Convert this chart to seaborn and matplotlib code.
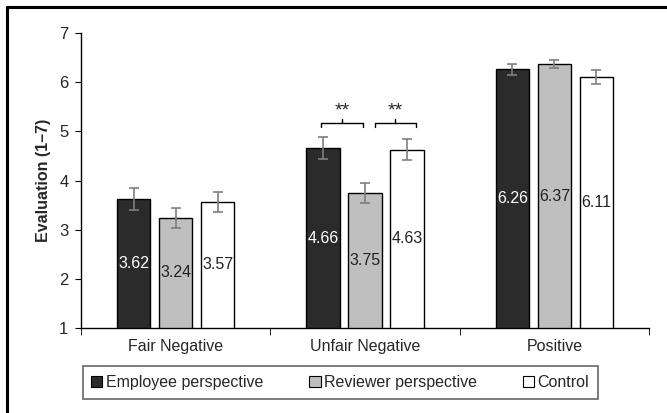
import pandas as pd
import seaborn as sns
import matplotlib.pyplot as plt
from matplotlib.lines import Line2D

# Data
categories = ['Fair Negative', 'Unfair Negative', 'Positive']
groups = ['Employee perspective', 'Reviewer perspective', 'Control']
employee = [3.62, 4.66, 6.26]
reviewer = [3.24, 3.75, 6.37]
control = [3.57, 4.63, 6.11]
employee_err = [0.22, 0.22, 0.115]
reviewer_err = [0.21, 0.20, 0.085]
control_err = [0.20, 0.22, 0.14]

colors = ['#2b2b2b', '#bfbfbf', '#ffffff']

# Build long table
rows = []
for g, vals, errs in zip(groups, [employee, reviewer, control],
                         [employee_err, reviewer_err, control_err]):
    for c, v, e in zip(categories, vals, errs):
        rows.append({'Condition': c, 'Group': g, 'Evaluation': v, 'SE': e})
dtf = pd.DataFrame(rows)

sns.set_style('white')
plt.rcParams['font.family'] = ['Liberation Sans', 'DejaVu Sans']

fig = plt.figure(figsize=(6.67, 4.13), dpi=100)
ax = fig.add_axes([0.1214, 0.2058, 0.8516, 0.714])

sns.barplot(data=dtf, x='Condition', y='Evaluation', hue='Group',
            order=categories, hue_order=groups, palette=colors,
            edgecolor='black', linewidth=1.0, width=0.666, gap=0.21,
            errorbar=None, legend=False, ax=ax)

# Error bars and value labels
for cont, g in zip(ax.containers, groups):
    sub = dtf[dtf['Group'] == g].set_index('Condition').loc[categories]
    xs = [p.get_x() + p.get_width() / 2 for p in cont.patches]
    ax.errorbar(xs, sub['Evaluation'], yerr=sub['SE'], fmt='none',
                ecolor='#7f7f7f', elinewidth=1.2, capsize=3.5, capthick=1.2,
                zorder=5)
    tcol = 'white' if g == groups[0] else '#222222'
    for x, v in zip(xs, sub['Evaluation']):
        ax.text(x, (1 + v) / 2, f'{v:.2f}', ha='center', va='center',
                fontsize=11.5, color=tcol)

# Significance brackets over Unfair Negative
for x0, x1 in [(1 - 0.23, 1 - 0.013), (1 + 0.053, 1 + 0.267)]:
    xm = (x0 + x1) / 2
    ax.plot([x0, x0, x1, x1], [5.10, 5.18, 5.18, 5.10], color='black', lw=1)
    ax.plot([xm, xm], [5.18, 5.26], color='black', lw=1)
    ax.text(xm, 5.42, '**', ha='center', va='center', fontsize=14)

ax.set_ylim(1, 7)
ax.set_xlim(-0.5, 2.5)
ax.set_yticks(range(1, 8))
ax.set_xlabel('')
ax.set_ylabel('Evaluation (1–7)', fontsize=11.5, fontweight='bold', labelpad=6)
ax.tick_params(axis='y', labelsize=12, length=4, color='black', left=True,
               direction='out', pad=5)
ax.tick_params(axis='x', labelsize=11.5, length=0, pad=8)
ax.set_xticks([-0.5, 0.5, 1.5, 2.5], minor=True)
ax.tick_params(axis='x', which='minor', length=5, bottom=True, color='black')
for side in ['top', 'right']:
    ax.spines[side].set_visible(False)
for side in ['left', 'bottom']:
    ax.spines[side].set_color('black')
    ax.spines[side].set_linewidth(1.0)

# Legend
handles = [plt.Rectangle((0, 0), 1, 1, facecolor=c, edgecolor='black', lw=0.8)
           for c in colors]
leg = fig.legend(handles, groups, loc='center', bbox_to_anchor=(0.51, 0.074),
                 ncol=3, fontsize=11.5, frameon=True, fancybox=False,
                 handlelength=0.7, handleheight=0.7, handletextpad=0.2,
                 columnspacing=2.9, borderpad=0.55, borderaxespad=0,
                 edgecolor='#404040')
leg.get_frame().set_linewidth(1.2)

# Outer frame lines (top and left)
fig.add_artist(Line2D([0.0105, 1.0], [0.982, 0.982], color='black', lw=2.2,
                      transform=fig.transFigure))
fig.add_artist(Line2D([0.0105, 0.0105], [0.0, 0.982], color='black', lw=2.2,
                      transform=fig.transFigure))

fig.savefig('out.png', dpi=100)
